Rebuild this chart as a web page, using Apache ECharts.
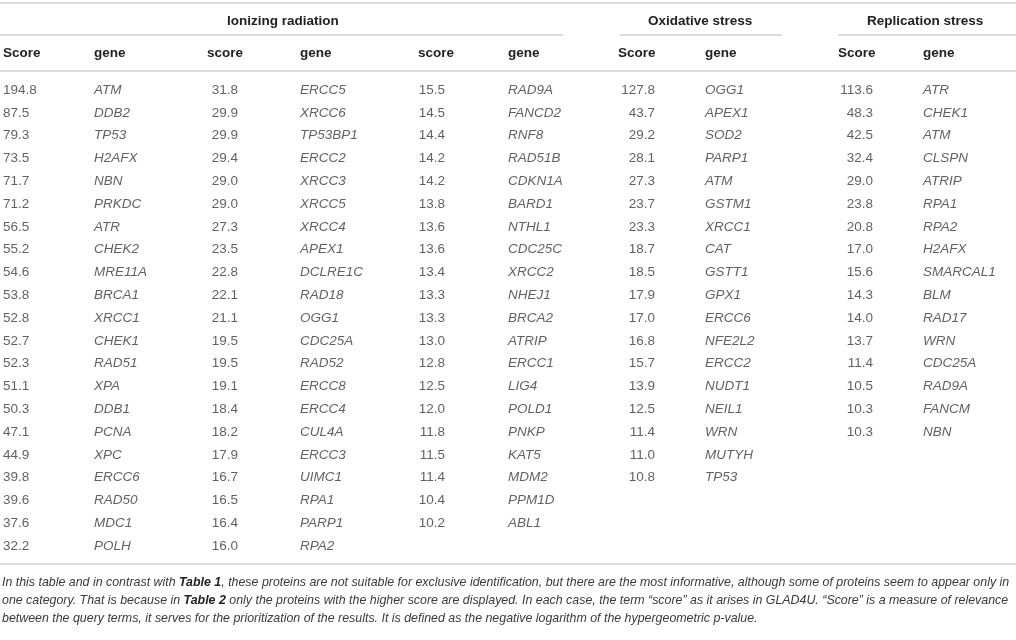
<!DOCTYPE html>
<html>
<head>
<meta charset="utf-8">
<script src="https://cdn.jsdelivr.net/npm/echarts@6/dist/echarts.min.js"></script>
<style>
  html, body { margin: 0; padding: 0; background: #fff; }
  #chart { width: 1016px; height: 640px; }
</style>
</head>
<body>
<div id="chart"></div>
<script>
  // table values, read column by column (descending scores wrap into next column)
  const ionizingScore = [
    194.8, 87.5, 79.3, 73.5, 71.7, 71.2, 56.5, 55.2, 54.6, 53.8, 52.8,
    52.7, 52.3, 51.1, 50.3, 47.1, 44.9, 39.8, 39.6, 37.6, 32.2,
    31.8, 29.9, 29.9, 29.4, 29.0, 29.0, 27.3, 23.5, 22.8, 22.1, 21.1,
    19.5, 19.5, 19.1, 18.4, 18.2, 17.9, 16.7, 16.5, 16.4, 16.0,
    15.5, 14.5, 14.4, 14.2, 14.2, 13.8, 13.6, 13.6, 13.4, 13.3,
    13.3, 13.0, 12.8, 12.5, 12.0, 11.8, 11.5, 11.4, 10.4, 10.2
  ]
  const ionizingGene = [
    'ATM', 'DDB2', 'TP53', 'H2AFX', 'NBN', 'PRKDC', 'ATR', 'CHEK2', 'MRE11A', 'BRCA1', 'XRCC1',
    'CHEK1', 'RAD51', 'XPA', 'DDB1', 'PCNA', 'XPC', 'ERCC6', 'RAD50', 'MDC1', 'POLH',
    'ERCC5', 'XRCC6', 'TP53BP1', 'ERCC2', 'XRCC3', 'XRCC5', 'XRCC4', 'APEX1', 'DCLRE1C', 'RAD18', 'OGG1',
    'CDC25A', 'RAD52', 'ERCC8', 'ERCC4', 'CUL4A', 'ERCC3', 'UIMC1', 'RPA1', 'PARP1', 'RPA2',
    'RAD9A', 'FANCD2', 'RNF8', 'RAD51B', 'CDKN1A', 'BARD1', 'NTHL1', 'CDC25C', 'XRCC2', 'NHEJ1',
    'BRCA2', 'ATRIP', 'ERCC1', 'LIG4', 'POLD1', 'PNKP', 'KAT5', 'MDM2', 'PPM1D', 'ABL1'
  ]
  const oxidativeScore = [
    127.8, 43.7, 29.2, 28.1, 27.3, 23.7, 23.3, 18.7, 18.5,
    17.9, 17.0, 16.8, 15.7, 13.9, 12.5, 11.4, 11.0, 10.8
  ]
  const oxidativeGene = [
    'OGG1', 'APEX1', 'SOD2', 'PARP1', 'ATM', 'GSTM1', 'XRCC1', 'CAT', 'GSTT1',
    'GPX1', 'ERCC6', 'NFE2L2', 'ERCC2', 'NUDT1', 'NEIL1', 'WRN', 'MUTYH', 'TP53'
  ]
  const replicationScore = [
    113.6, 48.3, 42.5, 32.4, 29.0, 23.8, 20.8, 17.0,
    15.6, 14.3, 14.0, 13.7, 11.4, 10.5, 10.3, 10.3
  ]
  const replicationGene = [
    'ATR', 'CHEK1', 'ATM', 'CLSPN', 'ATRIP', 'RPA1', 'RPA2', 'H2AFX',
    'SMARCAL1', 'BLM', 'RAD17', 'WRN', 'CDC25A', 'RAD9A', 'FANCM', 'NBN'
  ]

  const groupHeaders = ['Ionizing radiation', 'Oxidative stress', 'Replication stress']
  const subHeaders = ['Score', 'gene', 'score', 'gene', 'score', 'gene', 'Score', 'gene', 'Score', 'gene']

  const footnote = [
    'In this table and in contrast with {b|Table 1}, these proteins are not suitable for exclusive identification, but there are the most informative, although some of proteins seem to appear only in',
    'one category. That is because in {b|Table 2} only the proteins with the higher score are displayed. In each case, the term \u201cscore\u201d as it arises in GLAD4U. \u201cScore\u201d is a measure of relevance',
    'between the query terms, it serves for the prioritization of the results. It is defined as the negative logarithm of the hypergeometric p-value.'
  ]

  // layout
  const W = 1016
  const ROWS = 21
  const ROW_H = 22.8
  const FIRST_ROW = 90
  const FONT = 'Liberation Sans, Arial, sans-serif'
  const TEXT = '#3a3a3a'
  const HEAD = '#222'
  const RULE = '#cfcfcf'

  // x anchor of each sub column: score anchor/align, gene anchor
  const columns = [
    { score: 3, align: 'left', gene: 94 },
    { score: 238, align: 'right', gene: 300 },
    { score: 445, align: 'right', gene: 508 },
    { score: 655, align: 'right', gene: 705 },
    { score: 873, align: 'right', gene: 923 }
  ]
  const subHeaderX = [3, 94, 207, 300, 418, 508, 618, 705, 838, 923]
  const groupHeaderX = [227, 648, 867]
  const underlines = [[0, 563], [620, 782], [838, W]]

  function cellSeries(scores, genes, colOffset) {
    const scoreData = []
    const geneData = []
    scores.forEach((s, i) => {
      const col = columns[colOffset + Math.floor(i / ROWS)]
      const row = i % ROWS
      scoreData.push({ value: [col.score, row], label: { align: col.align }, txt: s.toFixed(1) })
      geneData.push({ value: [col.gene, row], txt: genes[i] })
    })
    const base = {
      type: 'scatter',
      symbolSize: 0,
      silent: true,
      label: {
        show: true,
        position: 'inside',
        verticalAlign: 'middle',
        align: 'left',
        fontFamily: FONT,
        fontSize: 13.5,
        color: TEXT,
        formatter: p => p.data.txt
      }
    }
    return [
      { ...base, data: scoreData },
      { ...base, data: geneData, label: { ...base.label, fontStyle: 'italic' } }
    ]
  }

  const series = [
    ...cellSeries(ionizingScore, ionizingGene, 0),
    ...cellSeries(oxidativeScore, oxidativeGene, 3),
    ...cellSeries(replicationScore, replicationGene, 4)
  ]

  function rule(x1, x2, y) {
    return {
      type: 'line',
      silent: true,
      shape: { x1, y1: y, x2, y2: y },
      style: { stroke: RULE, lineWidth: 1.5 }
    }
  }

  const graphic = []
  graphic.push(rule(0, W, 3), rule(0, W, 71), rule(0, W, 564))
  underlines.forEach(u => graphic.push(rule(u[0], u[1], 35)))
  groupHeaders.forEach((t, i) => {
    graphic.push({
      type: 'text', silent: true, x: groupHeaderX[i], y: 21,
      style: { text: t, font: 'bold 13.5px ' + FONT, fill: HEAD, verticalAlign: 'middle' }
    })
  })
  subHeaders.forEach((t, i) => {
    graphic.push({
      type: 'text', silent: true, x: subHeaderX[i], y: 53,
      style: { text: t, font: 'bold 13.5px ' + FONT, fill: HEAD, verticalAlign: 'middle' }
    })
  })
  footnote.forEach((t, i) => {
    graphic.push({
      type: 'text', silent: true, x: 2, y: 583 + i * 18,
      style: {
        text: t,
        font: 'italic 12.4px ' + FONT,
        fill: TEXT,
        verticalAlign: 'middle',
        rich: { b: { fontWeight: 'bold', fontStyle: 'italic', fontSize: 12.4, fontFamily: FONT, fill: '#222' } }
      }
    })
  })

  const chart = echarts.init(document.getElementById('chart'))
  chart.setOption({
    animation: false,
    grid: { left: 0, right: 0, top: FIRST_ROW - ROW_H / 2, height: ROWS * ROW_H },
    xAxis: { type: 'value', min: 0, max: W, show: false },
    yAxis: {
      type: 'category',
      inverse: true,
      show: false,
      data: Array.from({ length: ROWS }, (_, i) => i)
    },
    graphic,
    series
  })
</script>
</body>
</html>
